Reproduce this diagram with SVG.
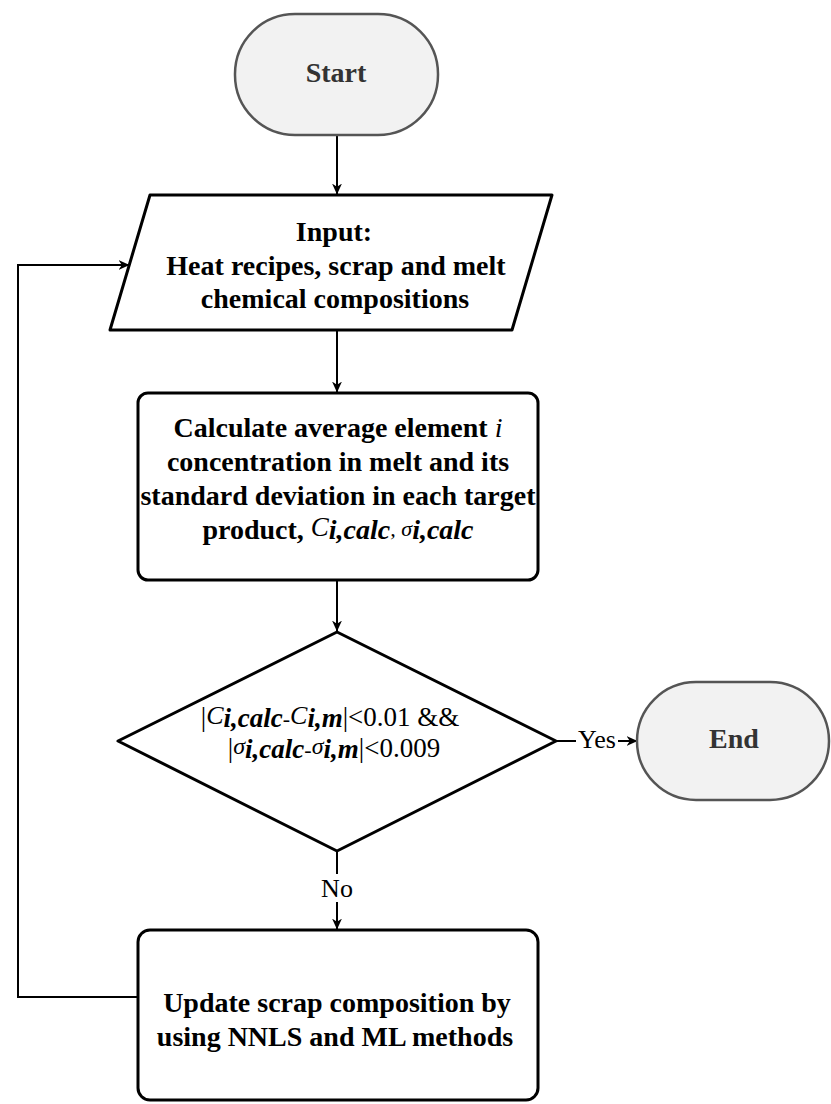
<svg xmlns="http://www.w3.org/2000/svg" width="831" height="1104" viewBox="0 0 831 1104">
<defs>
<marker id="arr" viewBox="0 0 10 10" refX="9.5" refY="5" markerWidth="11" markerHeight="11" markerUnits="userSpaceOnUse" orient="auto">
<path d="M0,0.5 L10,5 L0,9.5 L3,5 z" fill="#000"/>
</marker>
<style>
.t{font-family:"Liberation Serif","Times New Roman",serif;font-size:28px;font-weight:bold;fill:#000;text-anchor:middle}
.r{font-family:"Liberation Serif","Times New Roman",serif;font-size:26px;fill:#000;text-anchor:middle}
.f{font-size:27px}
.g{fill:#333}
.term{fill:#f2f2f2;stroke:#555;stroke-width:2.5}
.box{fill:#fff;stroke:#000;stroke-width:3;stroke-linejoin:round}
.c{fill:none;stroke:#000;stroke-width:2}
.it{font-style:italic;font-weight:normal}
.ib{font-style:italic;font-weight:bold}
</style>
</defs>
<g id="connectors">
<line class="c" x1="337" y1="135" x2="337" y2="194" marker-end="url(#arr)"/>
<line class="c" x1="337" y1="331" x2="337" y2="392" marker-end="url(#arr)"/>
<line class="c" x1="337" y1="581" x2="337" y2="631" marker-end="url(#arr)"/>
<line class="c" x1="556" y1="741" x2="637" y2="741" marker-end="url(#arr)"/>
<line class="c" x1="337" y1="851" x2="337" y2="929" marker-end="url(#arr)"/>
<polyline class="c" points="138,997 18,997 18,265 129,265" marker-end="url(#arr)"/>
<rect x="576" y="728" width="42" height="24" fill="#fff"/>
<text class="r" x="597" y="748">Yes</text>
<rect x="318" y="874" width="38" height="28" fill="#fff"/>
<text class="r" x="337" y="897">No</text>
</g>
<g id="start">
<rect class="term" x="235" y="14" width="203" height="121" rx="60" ry="60"/>
<text class="t g" x="336" y="82">Start</text>
</g>
<g id="input">
<path class="box" d="M150,195 L552,195 L512,330 L110,330 Z"/>
<text class="t" x="334" y="241">Input:</text>
<text class="t" x="336" y="275">Heat recipes, scrap and melt</text>
<text class="t" x="335" y="308">chemical compositions</text>
</g>
<g id="calc">
<rect class="box" x="138" y="393" width="400" height="187" rx="10" ry="10"/>
<text class="t" x="338" y="437">Calculate average element <tspan class="it">i</tspan></text>
<text class="t" x="338" y="471">concentration in melt and its</text>
<text class="t" x="338" y="505">standard deviation in each target</text>
<text class="t" x="338" y="539">product, <tspan class="it" font-size="27" dy="-3">C</tspan><tspan class="ib" dy="3">i,calc</tspan><tspan class="it" font-size="22" dy="-3">, </tspan><tspan class="it" font-size="22">σ</tspan><tspan class="ib" dy="3">i,calc</tspan></text>
</g>
<g id="decision">
<path class="box" d="M337,632 L556,741 L337,851 L118,741 Z"/>
<text class="r f" x="330" y="726">|<tspan class="it" font-size="26" dy="-2">C</tspan><tspan class="ib" dy="3">i,calc</tspan><tspan class="it" font-size="22" dy="-1">-</tspan><tspan class="it" font-size="26" dy="-2">C</tspan><tspan class="ib" dy="3">i,m</tspan><tspan dy="-1">|&lt;0.01 &amp;&amp;</tspan></text>
<text class="r f" x="334" y="757">|<tspan class="it" font-size="24" dy="-3">σ</tspan><tspan class="ib" dy="4">i,calc</tspan><tspan class="it" font-size="22" dy="-1">-</tspan><tspan class="it" font-size="24" dy="-3">σ</tspan><tspan class="ib" dy="4">i,m</tspan><tspan dy="-1">|&lt;0.009</tspan></text>
</g>
<g id="end">
<rect class="term" x="637" y="682" width="192" height="118" rx="59" ry="59"/>
<text class="t g" x="734" y="748">End</text>
</g>
<g id="update">
<rect class="box" x="138" y="930" width="400" height="170" rx="12" ry="12"/>
<text class="t" x="337" y="1012">Update scrap composition by</text>
<text class="t" x="335" y="1046">using NNLS and ML methods</text>
</g>
</svg>
